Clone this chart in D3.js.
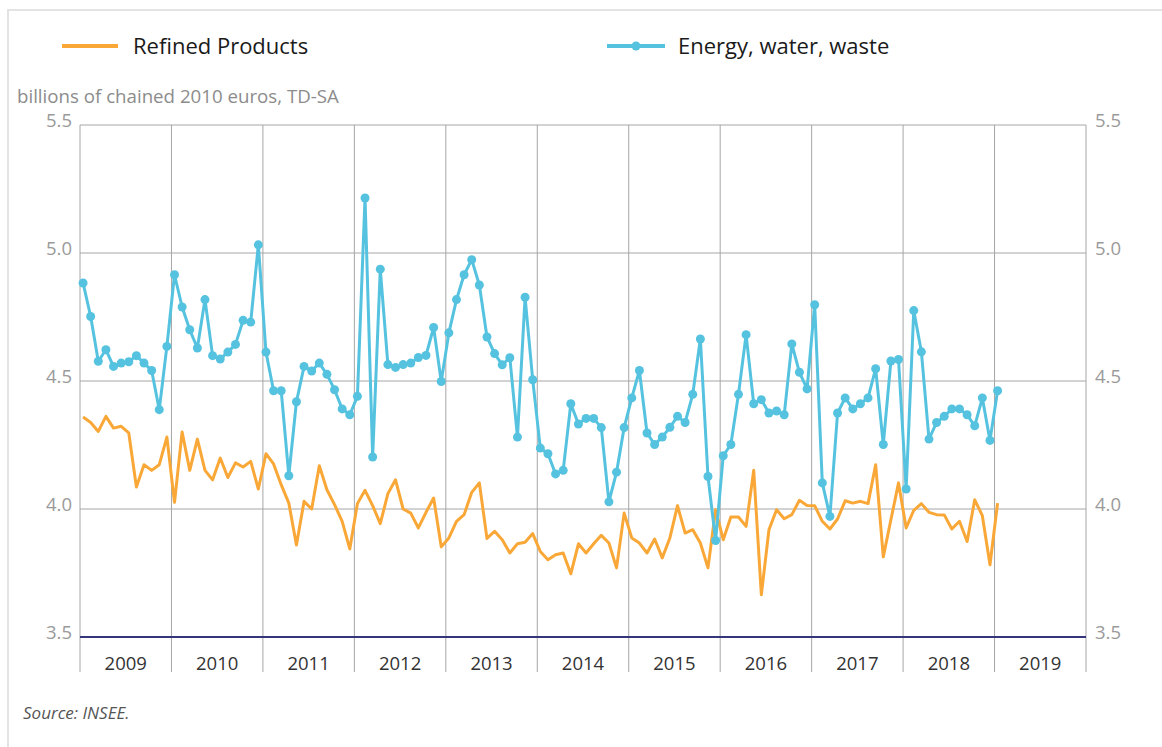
<!DOCTYPE html>
<html lang="en">
<head>
<meta charset="UTF-8">
<title>Refined products vs energy, water, waste</title>
<script src="https://d3js.org/d3.v7.min.js"></script>
<style>
    body { margin: 0; background: #fff; font-family: "Open Sans", Arial, sans-serif; }
    svg { display: block; }
    .tick-label { font-size: 18.5px; fill: #9a9a9a; }
    .year { font-size: 18.5px; fill: #333; text-anchor: middle; }
</style>
</head>
<body>
<svg id="chart" width="1162" height="747"></svg>
<script>
// monthly values, Jan 2009 -> Jan 2019
const refined = [
    4.359, 4.338, 4.303, 4.362, 4.316, 4.323, 4.297, 4.086, 4.173, 4.151, 4.173, 4.281,
    4.026, 4.301, 4.151, 4.273, 4.151, 4.114, 4.199, 4.123, 4.180, 4.164, 4.186, 4.078,
    4.216, 4.176, 4.095, 4.023, 3.859, 4.030, 4.000, 4.169, 4.075, 4.017, 3.952, 3.844,
    4.021, 4.073, 4.013, 3.943, 4.060, 4.114, 4.000, 3.984, 3.926, 3.987, 4.043, 3.852,
    3.887, 3.952, 3.978, 4.065, 4.102, 3.885, 3.913, 3.880, 3.828, 3.864, 3.870, 3.904,
    3.834, 3.802, 3.821, 3.828, 3.747, 3.864, 3.828, 3.864, 3.897, 3.867, 3.770, 3.984,
    3.887, 3.867, 3.828, 3.883, 3.809, 3.887, 4.013, 3.906, 3.919, 3.867, 3.770, 3.997,
    3.880, 3.969, 3.969, 3.932, 4.151, 3.665, 3.919, 3.997, 3.962, 3.978, 4.034, 4.014,
    4.013, 3.952, 3.922, 3.961, 4.032, 4.023, 4.030, 4.021, 4.173, 3.813, 3.958, 4.102,
    3.926, 3.995, 4.021, 3.987, 3.978, 3.977, 3.922, 3.952, 3.873, 4.036, 3.974, 3.782,
    4.023
];
const energy = [
    4.883, 4.752, 4.577, 4.622, 4.557, 4.570, 4.575, 4.599, 4.570, 4.541, 4.388, 4.635,
    4.915, 4.789, 4.700, 4.629, 4.818, 4.599, 4.586, 4.613, 4.643, 4.737, 4.730, 5.032,
    4.613, 4.462, 4.462, 4.130, 4.419, 4.557, 4.539, 4.570, 4.526, 4.466, 4.391, 4.368,
    4.440, 5.215, 4.203, 4.937, 4.564, 4.553, 4.564, 4.570, 4.592, 4.600, 4.709, 4.498,
    4.688, 4.818, 4.915, 4.974, 4.875, 4.672, 4.607, 4.563, 4.591, 4.281, 4.827, 4.505,
    4.238, 4.216, 4.137, 4.151, 4.411, 4.332, 4.354, 4.354, 4.318, 4.028, 4.144, 4.318,
    4.434, 4.541, 4.297, 4.252, 4.281, 4.319, 4.362, 4.338, 4.448, 4.664, 4.127, 3.877,
    4.208, 4.252, 4.448, 4.681, 4.411, 4.427, 4.375, 4.383, 4.368, 4.645, 4.534, 4.469,
    4.798, 4.102, 3.971, 4.375, 4.434, 4.391, 4.411, 4.434, 4.548, 4.252, 4.578, 4.584,
    4.078, 4.775, 4.614, 4.273, 4.338, 4.362, 4.391, 4.391, 4.368, 4.325, 4.434, 4.268,
    4.462
];
const years = ["2009", "2010", "2011", "2012", "2013", "2014", "2015", "2016", "2017", "2018", "2019"];
const yTicks = [3.5, 4.0, 4.5, 5.0, 5.5];

const orange = "#f9a838", blue = "#55c3df";

const svg = d3.select("#chart");
const plot = { left: 80, right: 1086, top: 125, bottom: 637 };

const x = d3.scaleLinear().domain([0, years.length * 12]).range([plot.left, plot.right]);
const y = d3.scaleLinear().domain([3.5, 5.5]).range([plot.bottom, plot.top]);

// outer frame
svg.append("rect")
    .attr("x", 8).attr("y", 10).attr("width", 1170).attr("height", 760)
    .attr("fill", "none").attr("stroke", "#e3e3e3").attr("stroke-width", 2);

// legend
svg.append("line").attr("x1", 62).attr("x2", 118).attr("y1", 46).attr("y2", 46)
    .attr("stroke", orange).attr("stroke-width", 4);
svg.append("text").attr("x", 133).attr("y", 54).attr("font-size", 22).attr("fill", "#1a1a1a")
    .text("Refined Products");
svg.append("line").attr("x1", 607).attr("x2", 665).attr("y1", 46).attr("y2", 46)
    .attr("stroke", blue).attr("stroke-width", 4);
svg.append("circle").attr("cx", 636).attr("cy", 46).attr("r", 4.5).attr("fill", blue);
svg.append("text").attr("x", 678).attr("y", 54).attr("font-size", 22).attr("fill", "#1a1a1a")
    .text("Energy, water, waste");

svg.append("text").attr("x", 17).attr("y", 103).attr("font-size", 18.7).attr("fill", "#8c8c8c")
    .text("billions of chained 2010 euros, TD-SA");

// horizontal grid
svg.append("g").selectAll("line")
    .data(yTicks.filter(d => d > 3.5))
    .join("line")
    .attr("x1", plot.left).attr("x2", plot.right)
    .attr("y1", d => y(d)).attr("y2", d => y(d))
    .attr("stroke", "#a6a6a6").attr("stroke-width", 1);

// vertical year separators
svg.append("g").selectAll("line")
    .data(d3.range(years.length + 1))
    .join("line")
    .attr("x1", d => x(d * 12)).attr("x2", d => x(d * 12))
    .attr("y1", plot.top).attr("y2", 672)
    .attr("stroke", "#a6a6a6").attr("stroke-width", 1);

// axis labels, both sides
const fmt = d3.format(".1f");
svg.append("g").selectAll("text")
    .data(yTicks).join("text")
    .attr("class", "tick-label")
    .attr("x", plot.left - 8).attr("y", d => y(d)).attr("dy", "0.1em")
    .attr("text-anchor", "end").text(fmt);
svg.append("g").selectAll("text")
    .data(yTicks).join("text")
    .attr("class", "tick-label")
    .attr("x", plot.right + 9).attr("y", d => y(d)).attr("dy", "0.1em")
    .text(fmt);

// base line at 3.5
svg.append("line").attr("x1", plot.left).attr("x2", plot.right)
    .attr("y1", y(3.5)).attr("y2", y(3.5))
    .attr("stroke", "#34357a").attr("stroke-width", 2);

svg.append("g").selectAll("text")
    .data(years).join("text")
    .attr("class", "year")
    .attr("x", (d, i) => x(i * 12 + 6)).attr("y", 670)
    .text(d => d);

// series
const xm = i => x(i + 0.4);
const line = d3.line().x((d, i) => xm(i)).y(d => y(d));

svg.append("path").datum(refined)
    .attr("fill", "none").attr("stroke", orange).attr("stroke-width", 3)
    .attr("stroke-linejoin", "round").attr("d", line);

svg.append("path").datum(energy)
    .attr("fill", "none").attr("stroke", blue).attr("stroke-width", 3)
    .attr("stroke-linejoin", "round").attr("d", line);

svg.append("g").selectAll("circle")
    .data(energy).join("circle")
    .attr("cx", (d, i) => xm(i)).attr("cy", d => y(d))
    .attr("r", 4.5).attr("fill", blue);

svg.append("text").attr("x", 23).attr("y", 719).attr("font-size", 17)
    .attr("font-style", "italic").attr("fill", "#555")
    .text("Source: INSEE.");
</script>
</body>
</html>
